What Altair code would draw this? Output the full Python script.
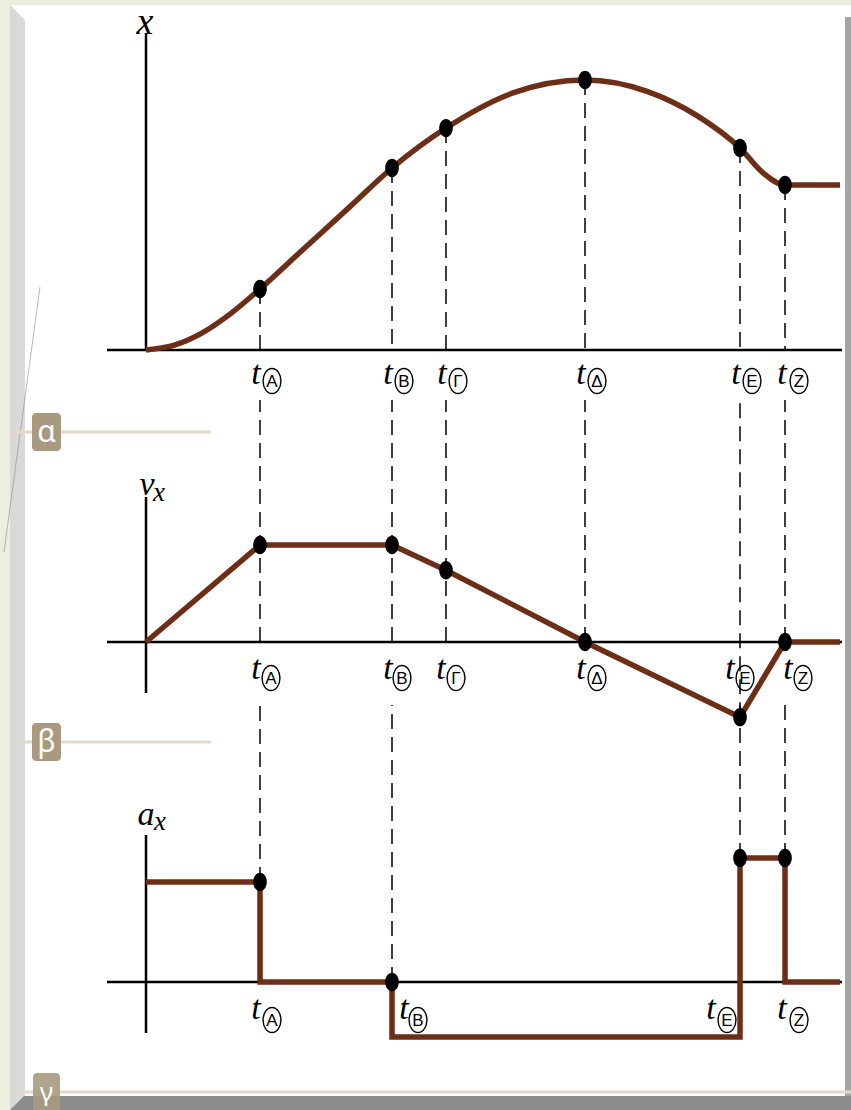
import altair as alt
import pandas as pd

# ---- data -----------------------------------------------------------------
# instants of the marked events (s) and their names
EVENTS = ["Α", "Β", "Γ", "Δ", "Ε", "Ζ"]
EVENT_T = [5.7, 12.3, 15.0, 21.95, 29.7, 31.95]
T_END = 34.7

# position x(t)
POS_T = [0, 1.45, 2.7, 4.2, 5.7, 7.7, 10.2, 12.3, 15.0, 18.35, 21.95,
         25.05, 27.55, 29.7, 30.85, 31.95, 34.7]
POS_X = [0, 0.19, 0.59, 1.33, 2.26, 3.62, 5.31, 6.74, 8.22, 9.52, 10.0,
         9.58, 8.68, 7.48, 6.56, 6.11, 6.11]

# velocity v_x(t)
VEL_T = [0, 5.7, 12.3, 15.0, 21.95, 29.7, 31.95, 34.7]
VEL_V = [0, 2.0, 2.0, 1.48, 0, -1.55, 0, 0]

# acceleration a_x(t), piecewise constant from each instant on
ACC_T = [0, 5.7, 12.3, 29.7, 31.95, 34.7]
ACC_A = [1.0, 0, -0.55, 1.24, 0, 0]
ACC_EVENTS = ["Α", "Β", "Ε", "Ζ"]
ACC_DOTS = [1.0, 0.0, 1.24, 1.24]

# ---- styles ---------------------------------------------------------------
BROWN = "#6d2e17"
SERIF = "Liberation Serif"
W, H = 851, 1110
X0, X1 = 146, 840
PX_PER_T = (X1 - X0) / T_END
ELLIPSE = "M -1 0 A 1 1.35 0 1 1 1 0 A 1 1.35 0 1 1 -1 0 Z"
RING = "M -1 0 A 1 1.4 0 1 1 1 0 A 1 1.4 0 1 1 -1 0 Z"

XS = alt.Scale(domain=[0, T_END], range=[X0, X1], nice=False, zero=False)
Y_POS = alt.Scale(domain=[0, 10], range=[350, 80], nice=False, zero=False)
Y_VEL = alt.Scale(domain=[0, 2], range=[642, 545], nice=False, zero=False)
Y_ACC = alt.Scale(domain=[0, 1], range=[982, 882], nice=False, zero=False)

one = alt.Data(values=[{"z": 0, "t": 0}])


def xq(field="t"):
    return alt.X(f"{field}:Q", scale=XS, axis=None)


def yq(field, scale):
    return alt.Y(f"{field}:Q", scale=scale, axis=None)


def rect(x, x2, y, y2, color, **kw):
    return alt.Chart(one).mark_rect(color=color, **kw).encode(
        x=alt.value(x), x2=alt.value(x2), y=alt.value(y), y2=alt.value(y2))


def hline(x, x2, y, color, width):
    return alt.Chart(one).mark_rule(color=color, strokeWidth=width).encode(
        x=alt.value(x), x2=alt.value(x2), y=alt.value(y))


def label(txt, x, y, size, color="black", font=SERIF, italic=True, **kw):
    return alt.Chart(one).mark_text(
        text=txt, font=font, fontSize=size, color=color,
        fontStyle="italic" if italic else "normal", **kw
    ).encode(x=alt.value(x), y=alt.value(y))


def event_labels(names, scale, t_dy, ring_dy, shifts):
    """t with a ringed letter under the time axis of a panel."""
    rows = []
    for n in names:
        t = EVENT_T[EVENTS.index(n)]
        st, sr = shifts.get(n, (-4, 12))
        rows.append({"z": 0, "tt": t + st / PX_PER_T, "tr": t + sr / PX_PER_T, "name": n})
    df = pd.DataFrame(rows)
    base = alt.Chart(df)
    tt = base.mark_text(text="t", font=SERIF, fontStyle="italic", fontSize=34,
                        baseline="alphabetic", dy=t_dy).encode(x=xq("tt"), y=yq("z", scale))
    ring = base.mark_point(shape=RING, size=320, filled=False, color="black",
                           strokeWidth=1.4, yOffset=ring_dy, opacity=1).encode(
        x=xq("tr"), y=yq("z", scale))
    letter = base.mark_text(font="Liberation Sans", fontSize=17,
                            baseline="middle", dy=ring_dy + 1).encode(
        x=xq("tr"), y=yq("z", scale), text="name:N")
    return [tt, ring, letter]


def axes(scale, top, bottom):
    h = alt.Chart(one).mark_rule(color="black", strokeWidth=2.5).encode(
        x=alt.value(107), x2=alt.value(842), y=yq("z", scale))
    v = alt.Chart(one).mark_rule(color="black", strokeWidth=2.5).encode(
        x=xq("t"), y=alt.value(top), y2=alt.value(bottom))
    return [h, v]


dash = dict(color="black", strokeWidth=1.5, strokeDash=[15, 8])

# ---- position panel -------------------------------------------------------
pos_lookup = dict(zip(POS_T, POS_X))
pos_ev = pd.DataFrame({"t": EVENT_T, "val": [pos_lookup[t] for t in EVENT_T], "z": 0})
pos_df = pd.DataFrame({"t": POS_T, "val": POS_X})

pos_layers = axes(Y_POS, 33, 350) + [
    alt.Chart(pos_ev).mark_rule(**dash).encode(x=xq(), y=yq("val", Y_POS), y2="z:Q"),
    alt.Chart(pos_df).mark_line(color=BROWN, strokeWidth=5.5, interpolate="monotone").encode(
        x=xq(), y=yq("val", Y_POS)),
    alt.Chart(pos_ev).mark_point(shape=ELLIPSE, size=185, filled=True, color="black", opacity=1).encode(
        x=xq(), y=yq("val", Y_POS)),
] + event_labels(EVENTS, Y_POS, 34, 31, {"Ζ": (-3, 14)}) + [
    label("x", 145, 23, 38, align="center"),
]
pos_panel = alt.layer(*pos_layers)

# ---- velocity panel -------------------------------------------------------
vel_lookup = dict(zip(VEL_T, VEL_V))
vel_ev = pd.DataFrame({"t": EVENT_T, "val": [vel_lookup[t] for t in EVENT_T]})
vel_ev["low"] = vel_ev["val"].clip(upper=0)
vel_df = pd.DataFrame({"t": VEL_T, "val": VEL_V})

vel_layers = axes(Y_VEL, 497, 693) + [
    alt.Chart(vel_ev).mark_rule(**dash).encode(x=xq(), y=yq("low", Y_VEL), y2=alt.value(400)),
    alt.Chart(vel_df).mark_line(color=BROWN, strokeWidth=5.5, strokeJoin="miter").encode(
        x=xq(), y=yq("val", Y_VEL)),
    alt.Chart(vel_ev).mark_point(shape=ELLIPSE, size=185, filled=True, color="black", opacity=1).encode(
        x=xq(), y=yq("val", Y_VEL)),
] + event_labels(EVENTS, Y_VEL, 37, 36,
                 {"Α": (-4, 11), "Β": (-4, 10), "Γ": (-5, 10), "Ε": (-10, 5), "Ζ": (3, 18)}) + [
    label("v", 147, 485, 34, align="center"),
    label("x", 159, 493, 27, align="center"),
]
vel_panel = alt.layer(*vel_layers)

# ---- acceleration panel ---------------------------------------------------
acc_df = pd.DataFrame({"t": ACC_T, "val": ACC_A})
acc_ev = pd.DataFrame({"t": [EVENT_T[EVENTS.index(n)] for n in ACC_EVENTS], "val": ACC_DOTS})

acc_layers = axes(Y_ACC, 835, 1033) + [
    alt.Chart(acc_ev).mark_rule(**dash).encode(x=xq(), y=yq("val", Y_ACC), y2=alt.value(705)),
    alt.Chart(acc_df).mark_line(color=BROWN, strokeWidth=5.5, interpolate="step-after",
                                strokeJoin="miter").encode(x=xq(), y=yq("val", Y_ACC)),
    alt.Chart(acc_ev).mark_point(shape=ELLIPSE, size=185, filled=True, color="black", opacity=1).encode(
        x=xq(), y=yq("val", Y_ACC)),
] + event_labels(ACC_EVENTS, Y_ACC, 37, 38,
                 {"Β": (12, 26), "Ε": (-29, -13), "Ζ": (-3, 14)}) + [
    label("a", 146, 815, 34, align="center"),
    label("x", 160, 822, 27, align="center"),
]
acc_panel = alt.layer(*acc_layers)

# ---- page frame and section tabs -----------------------------------------
TAB = "#a99a7f"
TAB_LINE = "#e4d8cc"
TAB_FONT = "Liberation Sans Narrow, Noto Sans"
tri = "M 0 0 L 2 0 L 2 2 Z"
frame = [
    rect(10, W, 5, 1096, "white"),
    rect(10, 25, 5, 1110, "#d9d9d9"),
    alt.Chart(one).mark_point(shape=tri, size=225, filled=True, color="white", opacity=1).encode(
        x=alt.value(10), y=alt.value(5)),
    rect(845, W, 17, 1096, "#a4a4a4"),
    rect(10, W, 1096, H, "#8c8c8c"),
    alt.Chart(one).mark_point(shape="M 0 0 L 2 0 L 0 2 Z", size=196, filled=True,
                              color="#d9d9d9", opacity=1).encode(x=alt.value(10), y=alt.value(1096)),
    alt.Chart(one).mark_rule(color="#8a8a8a", strokeWidth=1, opacity=0.6).encode(
        x=alt.value(40), y=alt.value(287), x2=alt.value(4), y2=alt.value(552)),
    hline(10, 211, 432, TAB_LINE, 3),
    hline(10, 211, 742, TAB_LINE, 3),
    hline(10, W, 1092, TAB_LINE, 3),
    rect(32, 61, 413, 451, TAB, cornerRadius=4),
    rect(32, 61, 723, 761, TAB, cornerRadius=4),
    rect(33, 60, 1073, 1114, TAB, cornerRadius=4, opacity=0.9),
    label("α", 46.5, 433, 30, color="white", font=TAB_FONT,
          italic=False, align="center", baseline="middle"),
    label("β", 46.5, 743, 30, color="white", font=TAB_FONT,
          italic=False, align="center", baseline="middle"),
    label("γ", 46.5, 1093, 26, color="white", font=TAB_FONT,
          italic=False, align="center", baseline="middle"),
]

chart = alt.layer(*frame, pos_panel, vel_panel, acc_panel).resolve_scale(
    y="independent"
).properties(
    width=W, height=H, padding=0, autosize=alt.AutoSizeParams(type="none"),
    background="#ebefdc",
).configure_view(stroke=None)

chart.save("out.html", embed_options={"renderer": "svg", "actions": False})
